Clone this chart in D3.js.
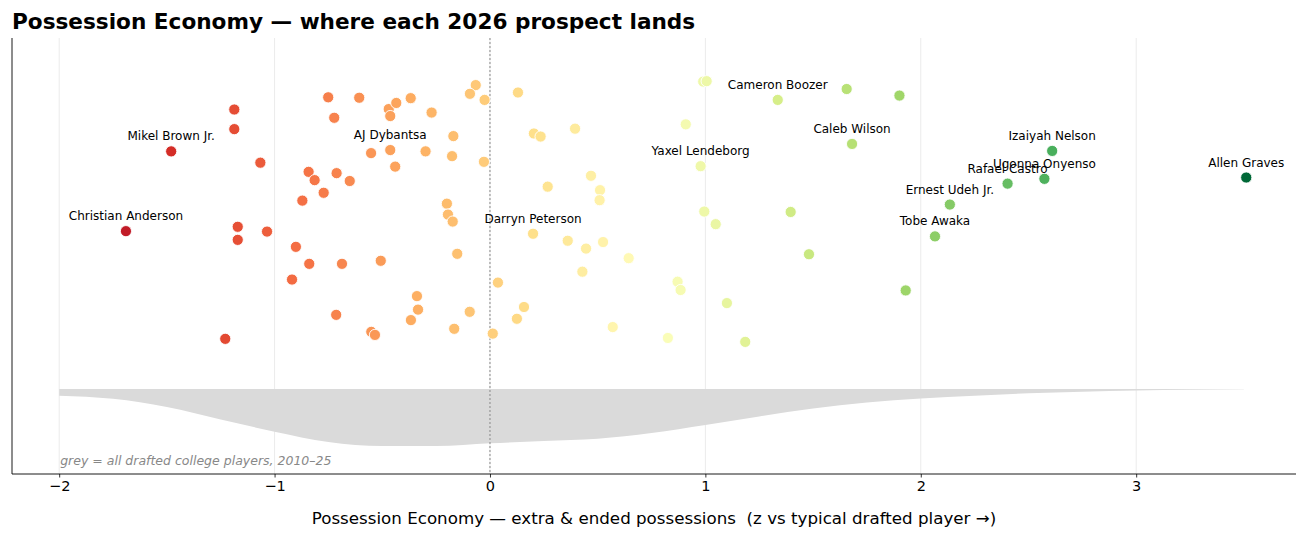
<!DOCTYPE html>
<html><head><meta charset="utf-8">
<script src="https://cdn.jsdelivr.net/npm/d3@7"></script>
<style>body{margin:0;background:#fff}svg{display:block;font-family:"DejaVu Sans",sans-serif}</style>
</head><body><svg id="c" width="1307" height="540"></svg>
<script>
// ---- data ----
const zScores = [-1.187,-1.187,-1.480,-1.066,-0.751,-0.607,-0.470,-0.435,-0.463,-0.368,-0.723,-0.271,-0.170,-0.552,-0.463,-0.299,-0.176,-0.440,-0.028,-0.842,-0.814,-0.712,-0.651,-0.772,-0.871,-0.200,-0.195,-0.173,-1.690,-1.171,-1.171,-1.035,-0.901,-0.839,-0.687,-0.507,-0.152,-0.919,0.037,-0.339,-0.334,-0.714,-0.367,-0.094,-0.166,-0.551,-0.534,0.013,-1.229,-0.066,-0.093,-0.025,0.130,0.204,0.235,0.395,0.909,0.990,1.006,1.336,1.656,1.681,0.978,0.469,0.268,0.511,0.509,0.995,1.048,1.396,0.200,0.361,0.446,0.525,0.644,1.481,0.429,0.871,0.885,1.100,0.158,0.125,0.570,0.826,1.185,1.901,2.610,2.574,2.403,3.511,2.135,2.066,1.930];
const jitter = [0.836,0.791,0.740,0.714,0.864,0.863,0.837,0.851,0.821,0.862,0.817,0.829,0.775,0.736,0.743,0.740,0.729,0.705,0.716,0.693,0.674,0.690,0.672,0.645,0.627,0.620,0.595,0.579,0.557,0.567,0.537,0.556,0.521,0.482,0.482,0.489,0.505,0.446,0.439,0.408,0.377,0.365,0.353,0.372,0.333,0.326,0.319,0.322,0.310,0.892,0.872,0.858,0.875,0.781,0.774,0.792,0.802,0.900,0.901,0.858,0.883,0.757,0.706,0.684,0.659,0.651,0.628,0.602,0.573,0.601,0.551,0.535,0.517,0.532,0.495,0.504,0.464,0.441,0.422,0.392,0.383,0.356,0.337,0.312,0.303,0.868,0.741,0.677,0.666,0.680,0.618,0.545,0.421];
// labelled prospects: name and index into the arrays above
const labelNames = ["Mikel Brown Jr.","AJ Dybantsa","Christian Anderson","Cameron Boozer","Caleb Wilson","Yaxel Lendeborg","Darryn Peterson","Izaiyah Nelson","Ugonna Onyenso","Rafael Castro","Allen Graves","Ernest Udeh Jr.","Tobe Awaka"];
const labelIndex = [2,14,28,59,61,62,70,86,87,88,89,90,91];
const densityX = [-2,-1.75,-1.5,-1.25,-1,-0.75,-0.5,-0.25,0,0.25,0.5,0.75,1,1.25,1.5,1.75,2,2.25,2.5,2.75,3,3.25,3.5];
const densityY = [0.118,0.172,0.316,0.535,0.749,0.93,1.0,1.0,0.953,0.912,0.872,0.772,0.632,0.482,0.342,0.237,0.167,0.119,0.077,0.047,0.025,0.012,0.005];
const xTicks = [-2,-1,0,1,2,3];
const titleText = "Possession Economy — where each 2026 prospect lands";
const xLabel = "Possession Economy — extra & ended possessions  (z vs typical drafted player →)";
const noteText = "grey = all drafted college players, 2010–25";

// ---- layout ----
const svg = d3.select("#c");
const L = 12, R = 1296, T = 38, B = 474;
const x = d3.scaleLinear().domain([-2.219, 3.742]).range([L, R]);
const y = d3.scaleLinear().domain([0, 1]).range([B, T]);
const baseline = 0.195, densDepth = 0.1307;
const dens = d3.scaleLinear().domain([0, 1]).range([0, densDepth]);
const brewer = ["#a50026","#d73027","#f46d43","#fdae61","#fee08b","#ffffbf","#d9ef8b","#a6d96a","#66bd63","#1a9850","#006837"];
const color = d3.scaleLinear().domain(d3.range(11).map(i => -2 + 5.5 * i / 10)).range(brewer).interpolate(d3.interpolateRgb).clamp(true);

// grid
svg.append("g").selectAll("line").data(xTicks).join("line")
  .attr("x1", d => x(d)).attr("x2", d => x(d)).attr("y1", T).attr("y2", B)
  .attr("stroke", "#ebebeb").attr("stroke-width", 1);

// density
const area = d3.area().x((d, i) => x(densityX[i])).y0(y(baseline)).y1((d, i) => y(baseline - dens(densityY[i]))).curve(d3.curveMonotoneX);
svg.append("path").datum(densityY).attr("d", area).attr("fill", "#dadada");

// zero line
svg.append("line").attr("x1", x(0)).attr("x2", x(0)).attr("y1", T).attr("y2", B)
  .attr("stroke", "#888").attr("stroke-width", 1).attr("stroke-dasharray", "2,2");

// points
const pts = zScores.map((v, i) => ({v, j: jitter[i]}));
svg.append("g").selectAll("circle").data(pts).join("circle")
  .attr("cx", d => x(d.v)).attr("cy", d => y(d.j)).attr("r", 5.6)
  .attr("fill", d => color(d.v)).attr("stroke", "#fff").attr("stroke-width", 0.9);

// labels
const labs = labelNames.map((n, k) => ({n, v: zScores[labelIndex[k]], j: jitter[labelIndex[k]]}));
svg.append("g").selectAll("text").data(labs).join("text")
  .attr("x", d => x(d.v)).attr("y", d => y(d.j) - 11).attr("text-anchor", "middle")
  .attr("font-size", "12px").attr("fill", "#000").text(d => d.n);

// note
svg.append("text").attr("x", x(-2) + 1).attr("y", 465).attr("font-size", "12.5px")
  .attr("font-style", "italic").attr("fill", "#888").text(noteText);

// axes
const ax = svg.append("g").attr("transform", `translate(0,${B})`)
  .call(d3.axisBottom(x).tickValues(xTicks).tickSize(3.5).tickPadding(3.5).tickFormat(d => d < 0 ? "−" + Math.abs(d) : d));
ax.select(".domain").remove();
ax.selectAll("text").attr("font-size", "14.5px").attr("font-family", "DejaVu Sans").attr("fill", "#000");
ax.selectAll("line").attr("stroke", "#000").attr("stroke-width", 0.8);
svg.append("line").attr("x1", L).attr("x2", R).attr("y1", B).attr("y2", B).attr("stroke", "#000").attr("stroke-width", 0.9);
svg.append("line").attr("x1", L).attr("x2", L).attr("y1", T).attr("y2", B).attr("stroke", "#000").attr("stroke-width", 0.9);

svg.append("text").attr("x", (L + R) / 2).attr("y", 524).attr("text-anchor", "middle")
  .attr("font-size", "16.7px").style("white-space", "pre").text(xLabel);
svg.append("text").attr("x", 12).attr("y", 29).attr("font-size", "21.6px").attr("font-weight", "bold").text(titleText);
</script></body></html>
